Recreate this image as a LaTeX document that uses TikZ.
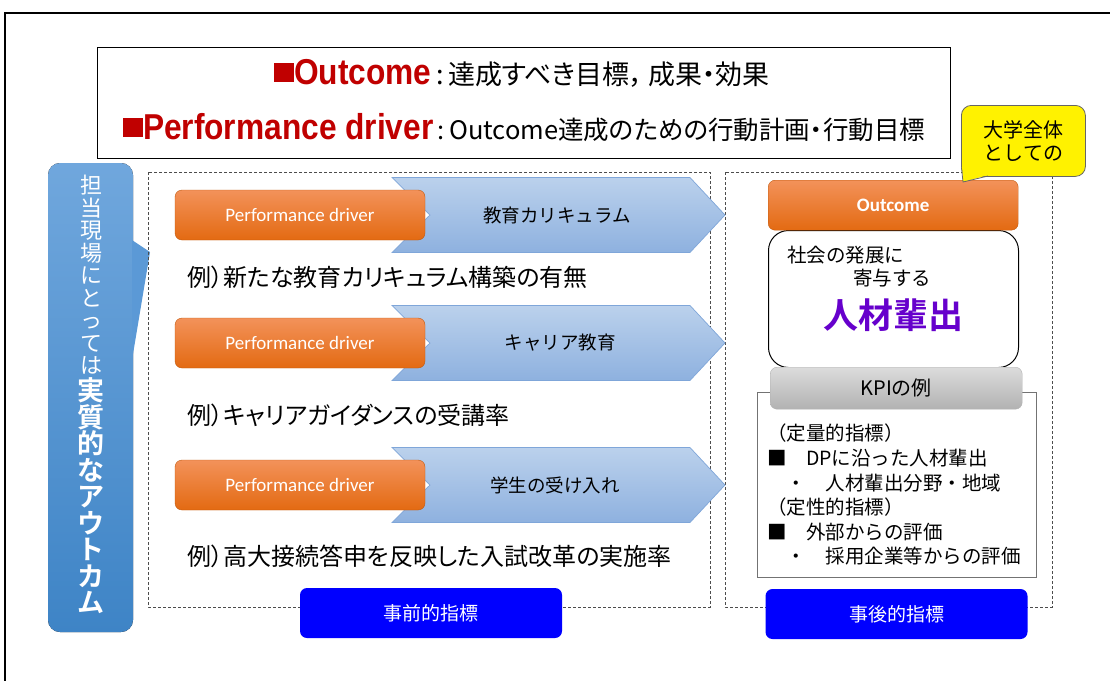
\documentclass[tikz,border=0pt]{standalone}
\usepackage{fontspec}
\setmainfont{Noto Sans CJK JP}[BoldFont={Noto Sans CJK JP Bold}]
\newfontfamily\jpp{Noto Sans CJK JP}[RawFeature=+palt]
\newfontfamily\narrowb{Liberation Sans}[FakeStretch=0.88]
\newfontfamily\calibri{Carlito}
\newcommand\fsz[2]{\fontsize{#1}{#2}\selectfont}
\definecolor{dred}{HTML}{C00000}
\definecolor{orT}{HTML}{F3925A}
\definecolor{orB}{HTML}{E36A12}
\definecolor{chT}{HTML}{BBD1EC}
\definecolor{chB}{HTML}{8EB1DF}
\definecolor{chD}{HTML}{7FA6D9}
\definecolor{btnblue}{HTML}{0000FF}
\definecolor{kpT}{HTML}{DCDCDC}
\definecolor{kpB}{HTML}{B2B2B2}
\definecolor{lbT}{HTML}{70A7DD}
\definecolor{lbB}{HTML}{3E84C6}
\definecolor{lbM}{HTML}{5B99D6}
\definecolor{purp}{HTML}{6600CC}
\begin{document}
\begin{tikzpicture}[x=1pt,y=-1pt,
  txt/.style={inner sep=0pt},
  pdbox/.style={rounded corners=7pt, top color=orT, bottom color=orB, draw=orB!85!black, line width=0.4pt, text=white, inner sep=0pt},
  chev/.style={top color=chT, bottom color=chB, draw=chD, line width=0.7pt},
  dashbox/.style={draw=black!70, dash pattern=on 3pt off 2pt, line width=0.8pt},
  bluebtn/.style={fill=btnblue, rounded corners=7pt, text=white, inner sep=0pt, minimum width=262pt, minimum height=50pt, font=\fsz{19}{19}},
]
\useasboundingbox (0,0) rectangle (1110,680);
\fill[white] (0,0) rectangle (1110,680);
\draw[line width=2pt] (5,682) -- (5,13) -- (1112,13);

% definition box
\node[draw, line width=0.8pt, minimum width=853pt, minimum height=111pt, anchor=north west, inner sep=0pt] (defbox) at (97,47) {};
\node[txt, anchor=base] (def1) at (522,84) {{\color{dred}\raisebox{2pt}{\rule{20pt}{19pt}}\narrowb\bfseries\fsz{36}{36}Outcome}{\jpp\fsz{27}{27}\,:\,達成すべき目標，\hspace{5pt}成果・効果}};
\node[txt, anchor=base] (def2) at (524,139) {{\color{dred}\raisebox{2pt}{\rule{20pt}{19pt}}\narrowb\bfseries\fsz{36}{36}Performance driver}{\jpp\fsz{25.5}{25.5}\,:\,Outcome達成のための行動計画・行動目標}};

% left callout
\fill[top color=lbT, bottom color=lbB, rounded corners=12pt] (48,163) rectangle (133,632);
\fill[lbM] (132,240) -- (150,252) -- (132,360) -- cycle;
\node[txt, align=center, text=white, font={\fsz{22}{22.5}\lineskiplimit=-30pt}] (vreg) at (91,275) {担\\当\\現\\場\\に\\と\\っ\\て\\は};
\node[txt, align=center, text=white, font={\bfseries\fsz{27}{26.5}\lineskiplimit=-30pt}] (vbold) at (91,496) {実\\質\\的\\な\\ア\\ウ\\ト\\カ\\ム};

% dashed frames
\draw[dashbox] (148,172) rectangle (710,607);
\draw[dashbox] (725,172) rectangle (1052,607);

% rows
\foreach \i/\yc/\lab/\lx/\ex/\ey in {1/215/教育カリキュラム/557/例）新たな教育カリキュラム構築の有無/277,
  2/343/キャリア教育/560/例）キャリアガイダンスの受講率/415,
  3/485/学生の受け入れ/555/例）高大接続答申を反映した入試改革の実施率/556}
{
  \path[chev] (392,\yc-37.5) -- (690,\yc-37.5) -- (725,\yc) -- (690,\yc+37.5) -- (392,\yc+37.5) -- (430,\yc) -- cycle;
  \node[txt, font=\fsz{18.5}{18.5}] (ch\i) at (\lx,\yc) {\lab};
  \node[pdbox, minimum width=250pt, minimum height=50pt] (pd\i) at (300,\yc) {\calibri\fsz{19}{19}Performance driver};
  \node[txt, anchor=west, font=\jpp\fsz{24}{24}] (ex\i) at (187,\ey) {\ex};
}

\node[bluebtn] (pre) at (431,613) {事前的指標};

% right side
\node[draw, line width=1pt, fill=white, rounded corners=20pt, minimum width=250pt, minimum height=137pt, anchor=north west, inner sep=0pt] (outbox) at (768,230) {};
\node[pdbox, minimum width=250pt, minimum height=50pt, anchor=north west] (outc) at (768,180) {\calibri\bfseries\fsz{19}{19}Outcome};
\node[txt, anchor=west, font=\fsz{19.5}{19.5}] (soc1) at (787,255) {社会の発展に};
\node[txt, anchor=west, font=\fsz{19.5}{19.5}] (soc2) at (853,278) {寄与する};
\node[txt, text=purp, font=\bfseries\fsz{35}{35}] (jinzai) at (893,315) {人材輩出};

\node[draw=black!55, line width=0.6pt, fill=white, minimum width=279pt, minimum height=185pt, anchor=north west, inner sep=0pt] (kpibox) at (757,392) {};
\node[draw=black!30, top color=kpT, bottom color=kpB, rounded corners=7pt, minimum width=252pt, minimum height=42pt, anchor=north west, inner sep=0pt, font=\fsz{20}{20}] (kpih) at (770,367) {KPIの例};
\node[txt, anchor=north west, align=left, font=\fsz{19.5}{24.6}] (kpilist) at (767,424) {（定量的指標）\\■　DPに沿った人材輩出\\　・　人材輩出分野・地域\\（定性的指標）\\■　外部からの評価\\　・　採用企業等からの評価};

\node[bluebtn] (post) at (896.5,614) {事後的指標};

% yellow callout
\node[draw=black!60, line width=0.8pt, fill=yellow, rounded corners=10pt, minimum width=124pt, minimum height=71pt, anchor=north west, inner sep=0pt, align=center, font=\fsz{20}{23}] (univ) at (961,105) {大学全体\\としての};
\fill[yellow] (962,166) -- (963,182) -- (990,174.5) -- (990,170) -- cycle;
\draw[black!60, line width=0.8pt] (961.5,168) -- (963,182) -- (988,176);
\end{tikzpicture}
\end{document}
